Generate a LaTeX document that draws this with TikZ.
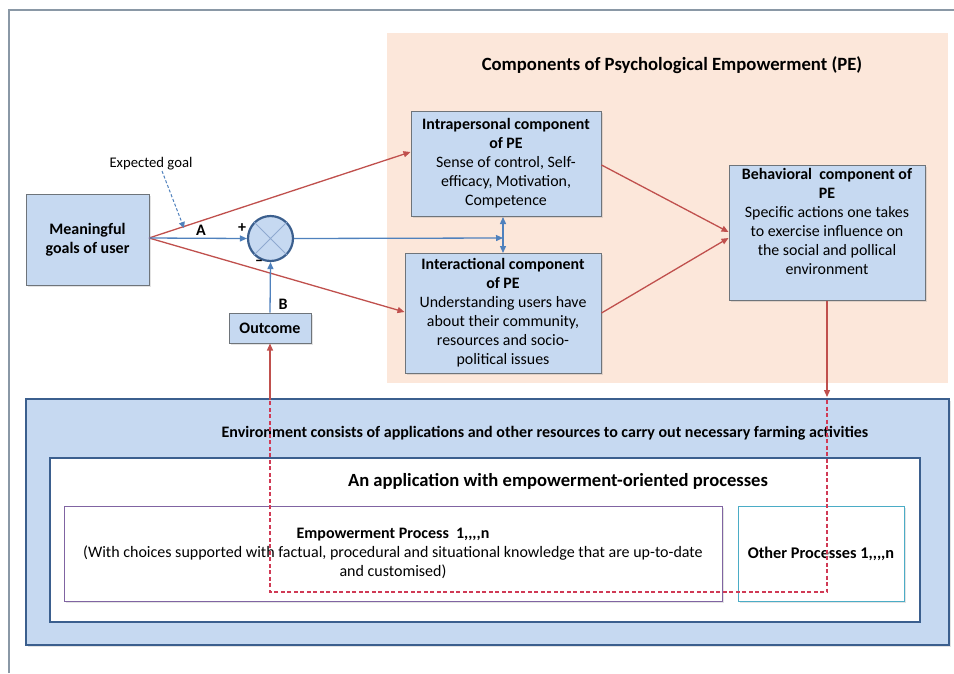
\documentclass[tikz,border=0pt]{standalone}
\usepackage{fontspec}
\setmainfont{Carlito}
\usetikzlibrary{arrows.meta,shadows}

\definecolor{boxblue}{HTML}{C6D9F1}
\definecolor{boxedge}{HTML}{6E747A}
\definecolor{peach}{HTML}{FCE7DA}
\definecolor{redc}{HTML}{C0504D}
\definecolor{dashred}{HTML}{D03A55}
\definecolor{bluec}{HTML}{4F81BD}
\definecolor{navy}{HTML}{3B5F8E}
\definecolor{frame}{HTML}{8A98A6}
\definecolor{purp}{HTML}{8064A2}
\definecolor{teal}{HTML}{4BACC6}
\definecolor{xline}{HTML}{8EA9CF}

\newcommand{\cnt}{1{,}{,}{,}{,}n}

\tikzset{
  softshadow/.style={drop shadow={opacity=0.22, shadow xshift=1.5pt, shadow yshift=-1.5pt}},
  pebox/.style={draw=boxedge, fill=boxblue, line width=1pt, align=center, softshadow,
    inner sep=2pt, font=\fontsize{15.9}{19}\selectfont},
  redarrow/.style={draw=redc, line width=1.3pt,
    -{Triangle[length=7pt,width=6pt]}},
  bluearrow/.style={draw=bluec, line width=1.3pt,
    -{Triangle[length=7pt,width=6pt]}},
  lbl/.style={inner sep=0pt, font=\fontsize{16}{18}\selectfont\bfseries},
}

\begin{document}
\begin{tikzpicture}[x=1pt,y=-1pt]
  \useasboundingbox (0,0) rectangle (954,673);
  \fill[white] (0,0) rectangle (954,673);

  % page frame lines
  \draw[frame, line width=1.2pt] (9,673) -- (9,10) -- (954,10);

  % background of the PE components
  \fill[peach] (387,33) rectangle (948,383);
  \node[inner sep=0pt, font=\fontsize{18.7}{22}\selectfont\bfseries] (petitle) at (672,65)
    {Components of Psychological Empowerment (PE)};

  % environment
  \node[draw=navy, fill=boxblue, line width=1.8pt, minimum width=923, minimum height=246,
        inner sep=0pt, softshadow] (env) at (487.5,522) {};
  \node[inner sep=0pt, font=\fontsize{16}{19}\selectfont\bfseries] (envtext) at (545,433)
    {Environment consists of applications and other resources to carry out necessary farming activities};
  \node[draw=navy, fill=white, line width=1.8pt, minimum width=870, minimum height=164,
        inner sep=0pt] (app) at (485,540) {};
  \node[inner sep=0pt, font=\fontsize{18.6}{22}\selectfont\bfseries] (apptext) at (558,481)
    {An application with empowerment-oriented processes};
  \node[draw=purp, fill=white, line width=0.8pt, minimum width=658, minimum height=95,
        inner sep=0pt, softshadow] (emp) at (393,553.5) {};
  \node[inner sep=0pt, align=center, font=\fontsize{16}{19}\selectfont] (emptext) at (393,553)
    {\textbf{Empowerment Process\ \ \cnt}\\
     (With choices supported with factual, procedural and situational knowledge that are up-to-date\\
     and customised)};
  \node[draw=teal, fill=white, line width=0.8pt, minimum width=166, minimum height=95,
        inner sep=0pt, softshadow, font=\fontsize{16.3}{19}\selectfont\bfseries] (other) at (821,553.5)
    {Other Processes \cnt};

  % user side
  \node[pebox, minimum width=123, minimum height=91, font=\fontsize{16}{19}\selectfont\bfseries]
    (goals) at (87.5,239.5) {Meaningful\\goals of user};
  \node[pebox, minimum width=82, minimum height=30, font=\fontsize{16}{18}\selectfont\bfseries]
    (outcome) at (270,328) {Outcome};
  \node[circle, draw=navy, fill=boxblue, line width=2.2pt, minimum size=45, inner sep=0pt]
    (sum) at (270.5,238.5) {};
  \draw[xline, line width=1pt] (sum.north west) -- (sum.south east)
                               (sum.north east) -- (sum.south west);

  % PE components
  \node[pebox, minimum width=190, minimum height=105] (intra) at (506,163.5)
    {\textbf{Intrapersonal component}\\\textbf{of PE}\\Sense of control, Self-\\efficacy, Motivation,\\Competence};
  \node[pebox, minimum width=196, minimum height=120] (inter) at (503,313)
    {\textbf{Interactional component}\\\textbf{of PE}\\Understanding users have\\about their community,\\resources and socio-\\political issues};
  \node[pebox, minimum width=196, minimum height=135] (beh) at (827,232.5)
    {\parbox[c][128pt][t]{192pt}{\centering\textbf{Behavioral\ \ component of}\\\textbf{PE}\\Specific actions one takes\\to exercise influence on\\the social and pollical\\environment}};

  % anchor points on the goals box and the links
  \coordinate (gout) at (149,238);
  \coordinate (expstart) at (162,171);
  \coordinate (expend) at (184,228);
  \coordinate (vtop) at (503,217);
  \coordinate (vbot) at (503,253);
  \coordinate (vmid) at (503,238);
  \coordinate (behdown) at (827,397);
  \coordinate (envr) at (827,400);
  \coordinate (dr) at (827,592);
  \coordinate (dl) at (270,592);
  \coordinate (envl) at (270,400);

  \node[inner sep=0pt, font=\fontsize{14.7}{17}\selectfont] (exp) at (151,164) {Expected goal};

  % red links
  \draw[redarrow] (gout) -- (intra.west |- 0,152);
  \draw[redarrow] (gout) -- (inter.west |- 0,312);
  \draw[redarrow] (intra.east |- 0,165) -- (beh.west |- 0,232);
  \draw[redarrow] (inter.east |- 0,313) -- (beh.west |- 0,238);
  \draw[redarrow] (beh.south) -- (behdown);
  \draw[dashred, line width=1.1pt, dash pattern=on 4pt off 2.5pt]
    (envr) -- (dr) -- (dl) -- (envl);
  \draw[redarrow] (envl) -- (outcome.south);

  % blue links
  \draw[bluearrow] (gout) -- (sum.west);
  \draw[bluearrow] (outcome.north) -- (sum.south);
  \draw[bluearrow] (sum.east) -- (vmid);
  \draw[draw=bluec, line width=1.3pt, {Triangle[length=7pt,width=6pt]}-{Triangle[length=7pt,width=6pt]}]
    (vtop) -- (vbot);
  \draw[draw=bluec, line width=1pt, dash pattern=on 3pt off 2pt,
        -{Triangle[length=6pt,width=6pt]}] (expstart) -- (expend);

  % signs and labels
  \node[lbl] (la) at (201,230) {A};
  \node[lbl] (lplus) at (242,228) {+};
  \node[lbl] (lminus) at (259,263) {\textendash};
  \node[lbl] (lb) at (283,304) {B};
\end{tikzpicture}
\end{document}
